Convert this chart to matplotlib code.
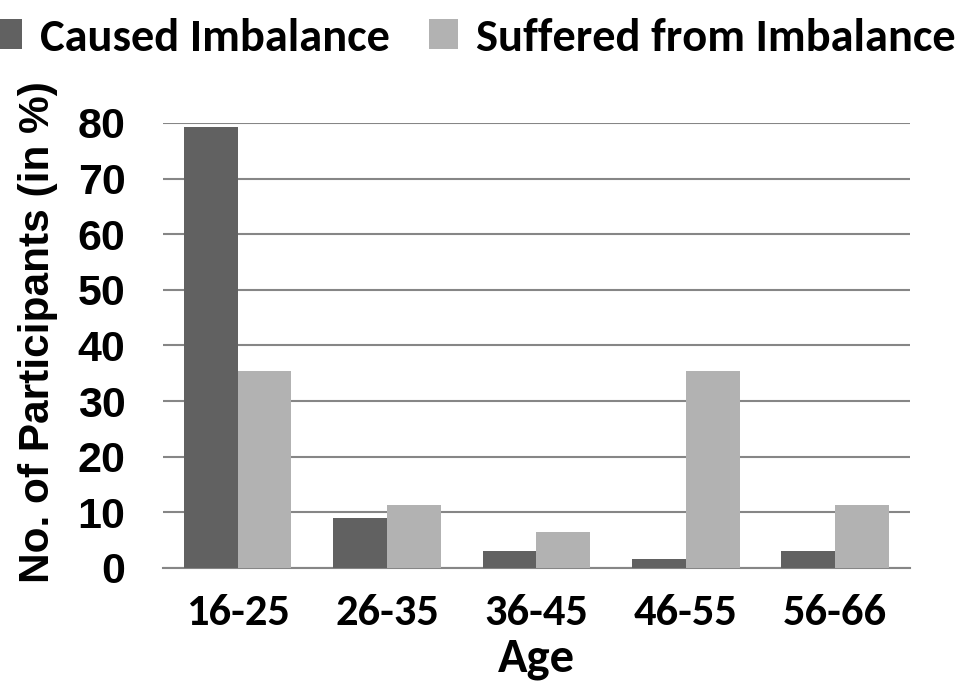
import numpy as np
import matplotlib.pyplot as plt

ages = ["16-25", "26-35", "36-45", "46-55", "56-66"]
caused = [79.3, 9.0, 3.1, 1.6, 3.1]
suffered = [35.5, 11.3, 6.5, 35.5, 11.3]

calibri = ["Carlito", "Lato", "DejaVu Sans"]
arial = ["Liberation Sans", "DejaVu Sans"]

fig = plt.figure(figsize=(9.6, 7), dpi=100)
ax = fig.add_axes([0.1698, 0.1886, 0.778, 0.6357])

x = np.arange(len(ages))
w = 0.36
ax.bar(x - w/2, caused, w, color="#616161", label="Caused Imbalance", zorder=3)
ax.bar(x + w/2, suffered, w, color="#b2b2b2", label="Suffered from Imbalance", zorder=3)

ax.set_xlim(-0.5, 4.5)
ax.set_ylim(0, 80)
ax.set_yticks(range(0, 81, 10))
ax.yaxis.grid(True, color="#868686", linewidth=1.5, zorder=0)
for s in ["top", "right", "left"]:
    ax.spines[s].set_visible(False)
ax.spines["bottom"].set_color("#868686")
ax.spines["bottom"].set_linewidth(1.5)
ax.tick_params(axis="both", length=0)
ax.tick_params(axis="x", pad=19)
ax.tick_params(axis="y", pad=27)

ax.set_xticks(x)
ax.set_xticklabels(ages, fontsize=32, fontweight="bold", family=calibri)
for lab in ax.get_yticklabels():
    lab.set_fontsize(31)
    lab.set_fontweight("bold")
    lab.set_family(arial)

ax.set_xlabel("Age", fontsize=35, fontweight="bold", family=calibri, labelpad=4)
ax.set_ylabel("No. of Participants (in %)", fontsize=30.5, fontweight="bold",
              family=arial)
ax.yaxis.set_label_coords(-0.14, 0.53)

fig.legend(loc="center", bbox_to_anchor=(0.494, 0.946), ncol=2, frameon=False,
           prop={"family": calibri, "weight": "bold", "size": 33.5},
           handlelength=0.62, handleheight=0.62, handletextpad=0.38,
           columnspacing=0.85, borderpad=0, borderaxespad=0)

fig.savefig("out.png", dpi=100)
